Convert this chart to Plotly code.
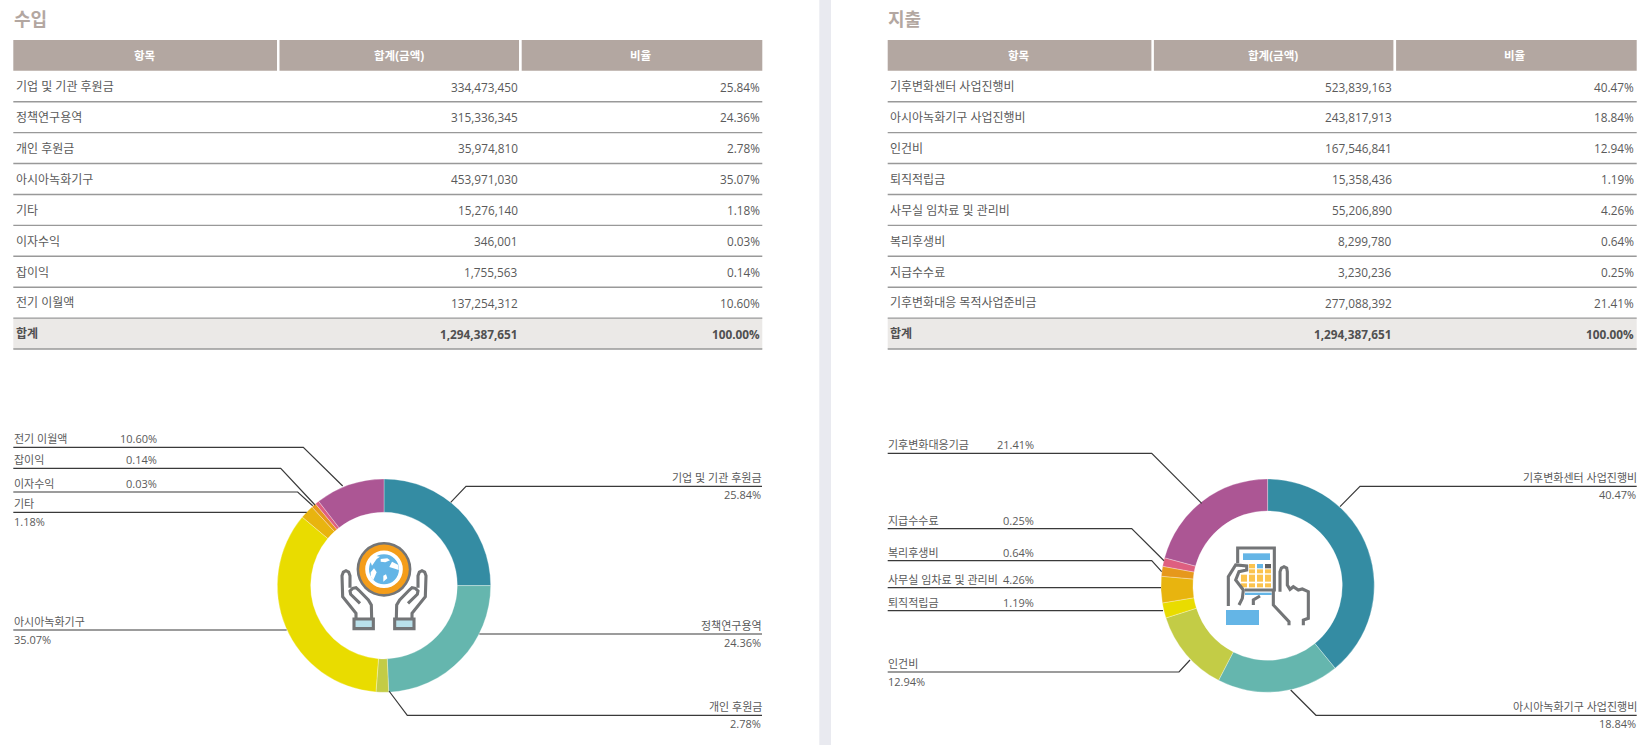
import plotly.graph_objects as go

W, H = 1651, 745
FONT = "Open Sans, Noto Sans CJK KR, sans-serif"

# ---- data ----
income_items = ["기업 및 기관 후원금", "정책연구용역", "개인 후원금", "아시아녹화기구", "기타", "이자수익", "잡이익", "전기 이월액"]
income_amounts = [334473450, 315336345, 35974810, 453971030, 15276140, 346001, 1755563, 137254312]
income_ratios = ["25.84%", "24.36%", "2.78%", "35.07%", "1.18%", "0.03%", "0.14%", "10.60%"]
income_arc_shares = [25.0, 24.3, 1.9, 34.9, 2.1, 0.7, 0.6, 10.5]

expense_items = ["기후변화센터 사업진행비", "아시아녹화기구 사업진행비", "인건비", "퇴직적립금", "사무실 임차료 및 관리비", "복리후생비", "지급수수료", "기후변화대응 목적사업준비금"]
expense_amounts = [523839163, 243817913, 167546841, 15358436, 55206890, 8299780, 3230236, 277088392]
expense_ratios = ["40.47%", "18.84%", "12.94%", "1.19%", "4.26%", "0.64%", "0.25%", "21.41%"]
expense_arc_shares = [39.1, 18.5, 12.5, 2.3, 4.0, 1.5, 1.3, 20.8]
expense_pie_names = ["기후변화센터 사업진행비", "아시아녹화기구 사업진행비", "인건비", "퇴직적립금", "사무실 임차료 및 관리비", "복리후생비", "지급수수료", "기후변화대응기금"]

total_label = "합계"
total_amount = 1294387651
total_ratio = "100.00%"
headers = ["항목", "합계(금액)", "비율"]
slice_colors = ["#348CA3", "#65B6AE", "#C3CC46", "#E9DC00", "#E8B40F", "#E6981C", "#DE5F80", "#AC5694"]

# ---- styles ----
HEAD = "#B3A7A1"
TXT = "#5A5A5A"
TOTAL = "#505050"
GRAY = "#737577"
BLUE = "#64B5E6"
YEL = "#FBC34E"
ICON_W = 3.1

shapes, annots = [], []
px = lambda x: x / W
py = lambda y: 1 - y / H


def rect(x0, y0, x1, y1, fill, line=None, lw=0):
    shapes.append(dict(type="rect", xref="paper", yref="paper", x0=px(x0), x1=px(x1), y0=py(y0), y1=py(y1),
                       fillcolor=fill, line=dict(color=line or fill, width=lw), layer="above"))


def circle(cx, cy, r, fill):
    shapes.append(dict(type="circle", xref="paper", yref="paper", x0=px(cx - r), x1=px(cx + r), y0=py(cy - r), y1=py(cy + r),
                       fillcolor=fill, line=dict(width=0), layer="above"))


def poly(points, color, width, fill=None, close=False):
    d = "M " + " L ".join(f"{px(a):.5f},{py(b):.5f}" for a, b in points) + (" Z" if close else "")
    shapes.append(dict(type="path", xref="paper", yref="paper", path=d, layer="above",
                       fillcolor=fill or "rgba(0,0,0,0)", line=dict(color=color, width=width)))


def text(x, y, s, anchor="left", size=12, color=TXT, bold=False, family=FONT):
    annots.append(dict(xref="paper", yref="paper", x=px(x), y=py(y), text=f"<b>{s}</b>" if bold else s,
                       showarrow=False, xanchor=anchor, yanchor="middle", borderpad=0,
                       font=dict(family=family, size=size, color=color)))


def table(dx, title, items, amounts, ratios):
    text(12.5 + dx, 19, title, size=18, color=HEAD, bold=True)
    rect(13.3 + dx, 40, 277 + dx, 70.7, HEAD)
    rect(279.5 + dx, 40, 519 + dx, 70.7, HEAD)
    rect(521.7 + dx, 40, 762.3 + dx, 70.7, HEAD)
    for cx, h in zip((145, 399, 641), headers):
        text(cx + dx, 55.5, h, "center", 11.5, "#FFFFFF", True)
    first, step = 101.7, 30.92
    rect(13.3 + dx, first + 7 * step, 762.3 + dx, first + 8 * step, "#EBE9E7")
    for i in range(9):
        y = first + i * step
        poly([(13.3 + dx, y), (762.3 + dx, y)], "#999999", 1.4)
    for i, (a, b, c) in enumerate(zip(items, amounts, ratios)):
        yc = first + i * step - 15.2
        text(14.5 + dx, yc, a, size=12)
        text(519 + dx, yc, f"{b:,}", "right", 11.8)
        text(761 + dx, yc, c, "right", 11.8)
    yc = first + 8 * step - 15.2
    text(14.5 + dx, yc, total_label, size=12, color=TOTAL, bold=True)
    text(519 + dx, yc, f"{total_amount:,}", "right", 11.8, TOTAL, True)
    text(761 + dx, yc, total_ratio, "right", 11.8, TOTAL, True)


def label(points, name, pct, side, pct_x=None):
    poly(points, "#3A3A3A", 1.2)
    if side == "left":
        x0, y0 = points[0]
        text(x0 - 0.8, y0 - 8.4, name, size=11)
        if pct_x:
            text(pct_x, y0 - 8.4, pct, "right", 11)
        else:
            text(x0 - 0.3, y0 + 9.2, pct, size=11)
    else:
        x1, y1 = points[-1]
        text(x1 + 0.8, y1 - 8.4, name, "right", 11)
        text(x1 + 0.3, y1 + 8.6, pct, "right", 11)


# ---- page ----
rect(819.3, 0, 831, H, "#E9EAF0")
table(0, "수입", income_items, income_amounts, income_ratios)
table(874.4, "지출", expense_items, expense_amounts, expense_ratios)

# ---- leader lines and labels, income ----
label([(13.3, 447.3), (303.3, 447.3), (342.7, 486)], income_items[7], income_ratios[7], "left", 157.5)
label([(13.3, 468.3), (280.7, 468.3), (315, 505)], income_items[6], income_ratios[6], "left", 157.5)
label([(13.3, 492), (297.7, 492), (312.7, 505.7)], income_items[5], income_ratios[5], "left", 157.5)
label([(13.3, 512.3), (306.7, 512.3)], income_items[4], income_ratios[4], "left")
label([(13.3, 630), (286.7, 630)], income_items[3], income_ratios[3], "left")
label([(450.7, 502.3), (466, 486.3), (762, 486.3)], income_items[0], income_ratios[0], "right")
label([(479.3, 634), (762, 634)], income_items[1], income_ratios[1], "right")
label([(389, 691), (407.3, 715.3), (762, 715.3)], income_items[2], income_ratios[2], "right")

# ---- leader lines and labels, expense ----
label([(887.7, 453.3), (1151.7, 453.3), (1201.7, 503.3)], expense_pie_names[7], expense_ratios[7], "left", 1034.8)
label([(887.7, 528.7), (1131.7, 528.7), (1164, 560.7)], expense_pie_names[6], expense_ratios[6], "left", 1034.8)
label([(887.7, 560.7), (1151.7, 560.7), (1161.7, 571.7)], expense_pie_names[5], expense_ratios[5], "left", 1034.8)
label([(887.7, 587.7), (1161, 587.7)], expense_pie_names[4], expense_ratios[4], "left", 1034.8)
label([(887.7, 610.7), (1163, 610.7)], expense_pie_names[3], expense_ratios[3], "left", 1034.8)
label([(887.7, 672), (1179, 672), (1190, 660)], expense_pie_names[2], expense_ratios[2], "left")
label([(1340, 506.7), (1360, 486.3), (1636.7, 486.3)], expense_pie_names[0], expense_ratios[0], "right")
label([(1290.7, 690), (1316, 715.3), (1636.7, 715.3)], expense_pie_names[1], expense_ratios[1], "right")


# ---- icon: hands holding the globe ----
def Z1(x, y):
    return (330 + x / 3, 535 + y / 3)


circle(384, 569.3, 27.4, GRAY)
circle(384, 569.3, 24.8, "#F49D1A")
circle(384, 569.3, 18.8, "#FFFFFF")
circle(384, 569.3, 15, BLUE)
for blob in (
    [(126, 92), (140, 72), (150, 65), (134, 62), (120, 76)],
    [(152, 72), (172, 70), (180, 76), (166, 82), (152, 80)],
    [(122, 112), (132, 100), (140, 112), (130, 135), (122, 125)],
    [(186, 80), (205, 90), (206, 105), (190, 100), (178, 96)],
    [(160, 122), (168, 118), (172, 130), (160, 140)],
):
    poly([Z1(*p) for p in blob], "#FFFFFF", 0, "#FFFFFF", True)
for mirror in (False, True):
    fx = (lambda x: 324 - x) if mirror else (lambda x: x)
    hand = [(78, 250), (78, 235), (38, 185), (36, 122), (40, 111), (48, 107), (56, 111), (60, 122), (60, 158)]
    poly([Z1(fx(x), y) for x, y in hand], GRAY, ICON_W)
    thumb = [(90, 205), (62, 178), (60, 168), (68, 160), (78, 158), (86, 165), (115, 195), (124, 210), (125, 250)]
    poly([Z1(fx(x), y) for x, y in thumb], GRAY, ICON_W)
    cuff = [(72, 252), (130, 252), (130, 281), (72, 281)]
    poly([Z1(fx(x), y) for x, y in cuff], GRAY, ICON_W, "#B9E0EA", True)


# ---- icon: hand with calculator ----
def Z2(x, y):
    return (1215 + x / 3, 540 + y / 3)


def zrect(x0, y0, x1, y1, fill):
    a, b = Z2(x0, y0), Z2(x1, y1)
    rect(a[0], a[1], b[0], b[1], fill)


poly([Z2(*p) for p in [(68, 70), (68, 24), (178, 24), (178, 150), (90, 150)]], GRAY, ICON_W)
zrect(84, 40, 165, 60, BLUE)
for x0, x1 in ((78, 96), (102, 120), (126, 144), (150, 168)):
    for y0, y1 in ((72, 85), (88, 100), (104, 125), (130, 142)):
        if x0 == 78 and y0 < 100:
            continue
        c = YEL
        if y0 == 72 and x0 == 126:
            c = BLUE
        if y0 == 72 and x0 == 150:
            c = "#5F6062"
        zrect(x0, y0, x1, y1, c)
zrect(90, 158, 170, 165, BLUE)
poly([Z2(*p) for p in [(40, 198), (40, 110), (62, 75), (95, 78), (95, 90), (72, 95), (62, 120), (85, 150), (82, 175), (72, 195)]], GRAY, ICON_W)
poly([Z2(*p) for p in [(115, 195), (115, 180), (135, 168)]], GRAY, ICON_W)
poly([Z2(*p) for p in [(175, 150), (175, 195), (222, 245), (222, 256)]], GRAY, ICON_W)
poly([Z2(*p) for p in [(195, 155), (195, 95), (199, 84), (207, 80), (215, 84), (217, 95), (217, 135), (225, 148), (235, 140), (250, 150), (262, 147), (280, 155), (280, 235), (265, 240), (265, 256)]], GRAY, ICON_W)
zrect(33, 210, 132, 255, BLUE)

# ---- donuts ----
fig = go.Figure()
for names, shares, cx, cy, R, hole in (
    (income_items, income_arc_shares, 384, 585.6, 106.7, 0.687),
    (expense_pie_names, expense_arc_shares, 1267.6, 585.6, 106.7, 0.70),
):
    fig.add_trace(go.Pie(
        labels=names, values=shares, sort=False, direction="clockwise", rotation=0, hole=hole,
        marker=dict(colors=slice_colors, line=dict(color="rgba(255,255,255,0.6)", width=0.5)),
        textinfo="none", showlegend=False,
        domain=dict(x=[px(cx - R), px(cx + R)], y=[py(cy + R), py(cy - R)]),
    ))

fig.update_layout(width=W, height=H, margin=dict(l=0, r=0, t=0, b=0, autoexpand=False), paper_bgcolor="#FFFFFF",
                  shapes=shapes, annotations=annots, font=dict(family=FONT), showlegend=False)
fig.write_html("out.html", config=dict(displayModeBar=False),
               post_script="document.body.style.margin='0';document.documentElement.style.overflow='hidden';")
